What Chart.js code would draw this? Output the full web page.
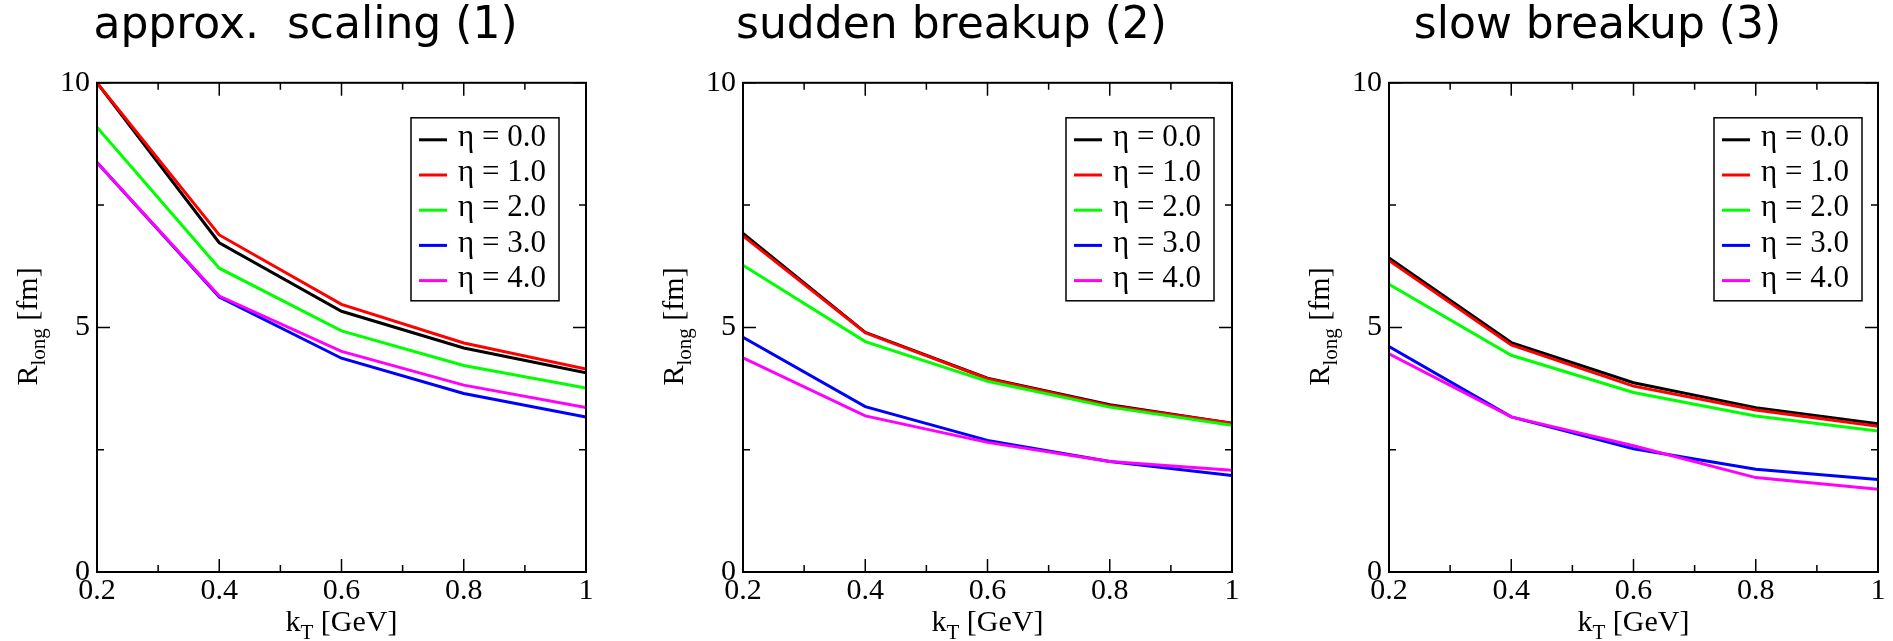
<!DOCTYPE html>
<html>
<head>
<meta charset="utf-8">
<title>R_long vs kT</title>
<script src="https://cdn.jsdelivr.net/npm/chart.js@4.4.0/dist/chart.umd.min.js"></script>
<style>
  html, body { margin: 0; padding: 0; background: #fff; }
  body { width: 1893px; height: 641px; position: relative; overflow: hidden; }
  canvas { position: absolute; top: 0; }
</style>
</head>
<body>
<canvas id="panel1" width="586" height="641" style="left:13px"></canvas>
<canvas id="panel2" width="594" height="641" style="left:651px"></canvas>
<canvas id="panel3" width="584" height="641" style="left:1307px"></canvas>
<script>
// --- data ---
var kT = [0.2, 0.4, 0.6, 0.8, 1.0];
var etaLabels = ['\u03b7 = 0.0', '\u03b7 = 1.0', '\u03b7 = 2.0', '\u03b7 = 3.0', '\u03b7 = 4.0'];
var seriesColors = ['#000000', '#ff0000', '#00ff00', '#0000ff', '#ff00ff'];

var xTickValues = [0.2, 0.4, 0.6, 0.8, 1.0];
var xTickLabels = ['0.2', '0.4', '0.6', '0.8', '1'];
var xMinorTicks = [0.3, 0.5, 0.7, 0.9];
var yTickValues = [0, 5, 10];
var yTickLabels = ['0', '5', '10'];
var yMinorTicks = [2.5, 7.5];

// approx. scaling (1)
var scalingEta0 = [10.0, 6.73, 5.33, 4.58, 4.07];
var scalingEta1 = [10.0, 6.89, 5.47, 4.68, 4.15];
var scalingEta2 = [9.09, 6.21, 4.93, 4.22, 3.76];
var scalingEta3 = [8.37, 5.62, 4.37, 3.65, 3.17];
var scalingEta4 = [8.37, 5.64, 4.51, 3.82, 3.36];

// sudden breakup (2)
var suddenEta0 = [6.92, 4.90, 3.96, 3.42, 3.04];
var suddenEta1 = [6.87, 4.89, 3.95, 3.40, 3.04];
var suddenEta2 = [6.27, 4.71, 3.90, 3.37, 3.00];
var suddenEta3 = [4.80, 3.38, 2.69, 2.26, 1.97];
var suddenEta4 = [4.38, 3.19, 2.65, 2.26, 2.08];

// slow breakup (3)
var slowEta0 = [6.42, 4.69, 3.87, 3.36, 3.03];
var slowEta1 = [6.37, 4.64, 3.80, 3.31, 2.98];
var slowEta2 = [5.88, 4.43, 3.67, 3.19, 2.88];
var slowEta3 = [4.61, 3.17, 2.52, 2.10, 1.89];
var slowEta4 = [4.46, 3.17, 2.58, 1.93, 1.69];

var serifFont = '"Liberation Serif", "DejaVu Serif", serif';

function tickText(values, labels, v) {
    for (var i = 0; i < values.length; i++) {
        if (Math.abs(values[i] - v) < 1e-6) return labels[i];
    }
    return '';
}

// frame, inward ticks, axis titles with subscripts and the boxed legend
var decorPlugin = {
    id: 'decor',
    afterDatasetsDraw: function(chart, args, opts) {
        var ctx = chart.ctx;
        var area = chart.chartArea;
        var xs = chart.scales.x, ys = chart.scales.y;
        ctx.save();

        ctx.strokeStyle = '#000';
        ctx.lineWidth = 1.5;
        function xTick(v, len) {
            var px = xs.getPixelForValue(v);
            ctx.beginPath();
            ctx.moveTo(px, area.bottom); ctx.lineTo(px, area.bottom - len);
            ctx.moveTo(px, area.top); ctx.lineTo(px, area.top + len);
            ctx.stroke();
        }
        function yTick(v, len) {
            var py = ys.getPixelForValue(v);
            ctx.beginPath();
            ctx.moveTo(area.left, py); ctx.lineTo(area.left + len, py);
            ctx.moveTo(area.right, py); ctx.lineTo(area.right - len, py);
            ctx.stroke();
        }
        xTickValues.forEach(function(v) { xTick(v, 13); });
        xMinorTicks.forEach(function(v) { xTick(v, 7); });
        yTickValues.forEach(function(v) { yTick(v, 13); });
        yMinorTicks.forEach(function(v) { yTick(v, 7); });

        ctx.lineWidth = 2;
        ctx.strokeRect(area.left, area.top, area.right - area.left, area.bottom - area.top);

        // legend
        var lw = 148, lh = 183;
        var lx = area.right - opts.legendRight - lw;
        var ly = area.top + 35;
        ctx.fillStyle = '#fff';
        ctx.fillRect(lx, ly, lw, lh);
        ctx.lineWidth = 1.5;
        ctx.strokeRect(lx, ly, lw, lh);
        ctx.font = '31px ' + serifFont;
        ctx.textBaseline = 'middle';
        ctx.textAlign = 'left';
        chart.data.datasets.forEach(function(ds, i) {
            var cy = ly + 22 + i * 35.2;
            ctx.strokeStyle = ds.borderColor;
            ctx.lineWidth = 3;
            ctx.beginPath();
            ctx.moveTo(lx + 8, cy); ctx.lineTo(lx + 36, cy);
            ctx.stroke();
            ctx.fillStyle = '#000';
            ctx.fillText(ds.label, lx + 47, cy - 2);
        });
        ctx.restore();
    },
    afterDraw: function(chart) {
        var ctx = chart.ctx;
        var area = chart.chartArea;
        ctx.save();
        ctx.fillStyle = '#000';
        ctx.textBaseline = 'alphabetic';
        ctx.textAlign = 'left';

        function withSub(main, sub, rest) {
            ctx.font = '30px ' + serifFont;
            var w1 = ctx.measureText(main).width;
            var w3 = ctx.measureText(rest).width;
            ctx.font = '21px ' + serifFont;
            var w2 = ctx.measureText(sub).width;
            var x0 = -(w1 + w2 + w3) / 2;
            ctx.font = '30px ' + serifFont;
            ctx.fillText(main, x0, 0);
            ctx.fillText(rest, x0 + w1 + w2, 0);
            ctx.font = '21px ' + serifFont;
            ctx.fillText(sub, x0 + w1, 8);
        }

        // x axis title
        ctx.save();
        ctx.translate((area.left + area.right) / 2, area.bottom + 59);
        withSub('k', 'T', ' [GeV]');
        ctx.restore();

        // y axis title
        ctx.save();
        ctx.translate(area.left - 60, (area.top + area.bottom) / 2 - 1);
        ctx.rotate(-Math.PI / 2);
        withSub('R', 'long', ' [fm]');
        ctx.restore();

        ctx.restore();
    }
};

function makePanel(canvasId, titleText, seriesList, padLeft, legendRight) {
    var datasets = seriesList.map(function(vals, i) {
        return {
            label: etaLabels[i],
            data: kT.map(function(x, j) { return { x: x, y: vals[j] }; }),
            borderColor: seriesColors[i],
            backgroundColor: seriesColors[i],
            borderWidth: 3,
            pointRadius: 0,
            tension: 0,
            fill: false,
            order: seriesList.length - i   // later curves on top
        };
    });
    return new Chart(document.getElementById(canvasId), {
        type: 'line',
        data: { datasets: datasets },
        options: {
            responsive: false,
            animation: false,
            layout: { padding: { left: padLeft, right: 13, top: 0, bottom: 0 } },
            plugins: {
                legend: { display: false },
                tooltip: { enabled: false },
                title: {
                    display: true,
                    text: titleText,
                    color: '#000',
                    font: { family: '"DejaVu Sans", sans-serif', size: 44, weight: 'normal' },
                    padding: { top: 0, bottom: 30 }
                },
                decor: { legendRight: legendRight }
            },
            scales: {
                x: {
                    type: 'linear',
                    min: 0.2,
                    max: 1,
                    grid: { display: false, drawTicks: false },
                    border: { display: false },
                    ticks: {
                        stepSize: 0.2,
                        autoSkip: false,
                        maxRotation: 0,
                        padding: 1,
                        color: '#000',
                        font: { family: serifFont, size: 30 },
                        callback: function(v) { return tickText(xTickValues, xTickLabels, v); }
                    },
                    afterFit: function(s) { s.height = 69; }
                },
                y: {
                    min: 0,
                    max: 10,
                    grid: { display: false, drawTicks: false },
                    border: { display: false },
                    ticks: {
                        stepSize: 5,
                        padding: 7,
                        color: '#000',
                        font: { family: serifFont, size: 30 },
                        callback: function(v) { return tickText(yTickValues, yTickLabels, v); }
                    },
                    afterFit: function(s) { s.width = 72; }
                }
            }
        },
        plugins: [decorPlugin]
    });
}

makePanel('panel1', 'approx.  scaling (1)',
    [scalingEta0, scalingEta1, scalingEta2, scalingEta3, scalingEta4], 12, 27);
makePanel('panel2', 'sudden breakup (2)',
    [suddenEta0, suddenEta1, suddenEta2, suddenEta3, suddenEta4], 20, 18);
makePanel('panel3', 'slow breakup (3)',
    [slowEta0, slowEta1, slowEta2, slowEta3, slowEta4], 10, 16);
</script>
</body>
</html>
